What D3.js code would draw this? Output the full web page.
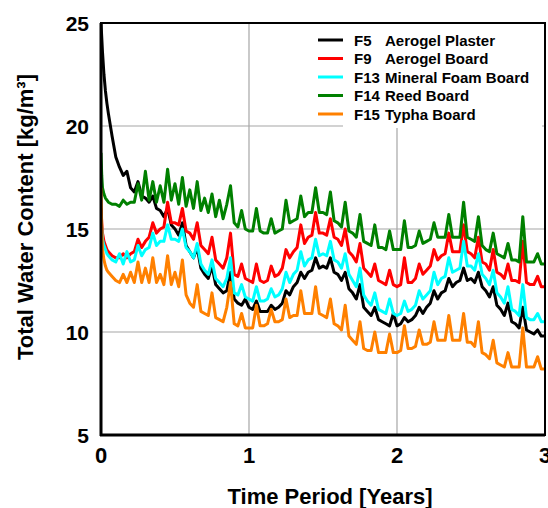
<!DOCTYPE html>
<html><head><meta charset="utf-8">
<script src="https://cdn.jsdelivr.net/npm/d3@7"></script>
<style>body{margin:0;background:#fff}svg{display:block}text{font-family:"Liberation Sans",Arial,sans-serif;font-weight:bold}</style>
</head><body><svg id="c" width="548" height="508"></svg>
<script>
const times = [0,0.005,0.01,0.02,0.03,0.04,0.05,0.075,0.1,
0.125,0.15,0.175,0.2,0.225,0.25,0.275,0.3,0.325,0.35,0.375,0.4,0.425,0.45,0.475,0.5,
0.525,0.55,0.575,0.6,0.625,0.65,0.675,0.7,0.725,0.75,0.775,0.8,0.825,0.85,0.875,0.9,0.925,0.95,0.975,1.0,
1.025,1.05,1.075,1.1,1.125,1.15,1.175,1.2,1.225,1.25,1.275,1.3,1.325,1.35,1.375,1.4,1.425,1.45,1.475,1.5,
1.525,1.55,1.575,1.6,1.625,1.65,1.675,1.7,1.725,1.75,1.775,1.8,1.825,1.85,1.875,1.9,1.925,1.95,1.975,2.0,
2.025,2.05,2.075,2.1,2.125,2.15,2.175,2.2,2.225,2.25,2.275,2.3,2.325,2.35,2.375,2.4,2.425,2.45,2.475,2.5,
2.525,2.55,2.575,2.6,2.625,2.65,2.675,2.7,2.725,2.75,2.775,2.8,2.825,2.85,2.875,2.9,2.925,2.95,2.975,3.0];

const f5 = [25,24.3,23.6,22.5,21.7,21.1,20.6,19.5,18.5,
18.0,17.6,17.8,17.0, 16.8,17.3,16.6,16.5, 16.3,16.6,16.0,15.9, 15.6,16.0,15.2,15.0,
14.7,15.3,14.2,13.9, 13.6,14.1,13.1,12.8, 12.6,13.2,12.3,12.1, 11.9,12.0,12.9,11.6, 11.4,11.3,11.6,11.2,
11.1,11.5,11.0,11.0, 11.0,11.3,11.1,11.2, 11.4,12.0,11.8,12.2, 12.4,12.9,12.6,12.9, 13.0,13.6,13.1,13.2,
13.1,13.6,12.9,12.8, 12.5,12.9,12.1,11.9, 11.6,12.3,11.2,11.0, 10.8,11.2,10.6,10.5, 10.4,10.3,10.9,10.3,
10.4,10.7,10.5,10.6, 10.8,11.2,10.9,11.2, 11.4,12.0,11.6,11.9, 12.0,12.6,12.2,12.4, 12.5,13.1,12.5,12.6,
12.4,12.9,12.2,12.0, 11.7,12.2,11.3,11.1, 10.8,11.4,10.5,10.4, 10.2,11.2,10.1,10.0, 9.9,10.1,9.8,9.8];

const f9 = [16.0,15.3,14.8,14.4,14.2,14.0,13.9,13.7,13.6,
13.6,13.8,13.6,13.8, 13.9,14.5,14.1,14.4, 14.6,15.3,14.8,15.0, 15.1,16.3,15.3,15.3,
15.2,16.0,14.9,14.8, 14.5,15.3,14.2,14.0, 13.8,14.6,13.5,13.3, 13.1,13.6,14.8,12.8, 12.7,13.3,12.6,12.5,
12.4,13.3,12.5,12.4, 12.5,13.2,12.7,12.8, 13.1,14.0,13.6,13.9, 14.1,15.2,14.3,14.6, 14.7,15.8,14.8,14.8,
14.7,15.5,14.6,14.5, 14.2,15.0,13.9,13.7, 13.4,14.3,13.1,12.9, 12.7,13.3,12.5,12.4, 12.3,13.0,12.3,12.2,
12.3,13.6,12.4,12.4, 12.6,13.3,12.8,13.0, 13.2,14.0,13.5,13.7, 13.8,14.8,13.9,13.9, 13.9,15.2,13.9,13.8,
13.6,14.6,13.4,13.3, 13.0,14.0,12.9,12.8, 12.6,13.3,12.5,12.5, 12.4,14.4,12.4,12.3, 12.3,12.7,12.2,12.2];

const f13 = [15.6,15.0,14.5,14.2,14.0,13.8,13.7,13.5,13.4,
13.8,13.3,13.9,13.4, 13.5,14.2,13.7,14.0, 14.1,14.8,14.2,14.4, 14.4,15.2,14.5,14.5,
14.4,15.0,14.1,13.9, 13.6,14.3,13.3,13.0, 12.8,13.5,12.6,12.4, 12.2,12.6,13.6,11.9, 11.8,12.3,11.7,11.6,
11.5,12.2,11.5,11.5, 11.6,12.1,11.7,11.8, 12.1,12.9,12.4,12.8, 13.0,13.9,13.2,13.5, 13.6,14.5,13.7,13.8,
13.7,14.4,13.5,13.4, 13.1,13.8,12.8,12.5, 12.2,13.1,11.8,11.5, 11.3,11.9,11.1,11.0, 10.9,11.6,10.9,10.8,
10.9,11.5,11.0,11.1, 11.3,12.0,11.6,11.8, 12.0,12.9,12.3,12.6, 12.7,13.6,12.9,13.0, 13.1,14.4,13.2,13.2,
13.0,13.8,12.8,12.6, 12.3,13.0,11.9,11.7, 11.4,12.2,11.1,11.0, 10.8,12.3,10.7,10.6, 10.6,10.9,10.5,10.5];

const f14 = [18.7,17.6,17.0,16.7,16.5,16.4,16.3,16.2,16.2,
16.1,16.4,16.2,16.3, 16.3,17.2,16.4,17.8, 16.4,17.3,16.3,17.1, 16.3,17.9,16.4,17.2,
16.2,17.5,16.1,16.9, 16.0,17.3,15.9,16.5, 15.8,16.7,15.6,16.4, 15.5,16.2,17.1,15.3, 15.1,15.9,15.0,14.9,
14.9,16.0,14.9,14.8, 14.8,15.5,14.8,14.9, 15.0,16.4,15.3,15.4, 15.5,16.6,15.6,15.8, 15.8,17.0,15.8,15.8,
15.7,16.8,15.4,15.3, 15.1,16.3,14.9,14.8, 14.6,15.7,14.4,14.3, 14.2,15.2,14.1,14.1, 14.0,14.9,14.0,14.0,
14.0,15.4,14.1,14.1, 14.2,14.9,14.3,14.4, 14.5,15.3,14.6,14.6, 14.6,15.7,14.6,14.6, 14.6,16.3,14.6,14.5,
14.4,15.6,14.2,14.0, 13.9,14.8,13.8,13.7, 13.6,14.3,13.5,13.5, 13.4,15.6,13.4,13.4, 13.4,13.8,13.3,13.3];

const f15 = [17.0,15.0,14.0,13.5,13.2,13.0,12.9,12.7,12.5,
12.4,12.8,12.4,12.9, 12.4,13.4,12.4,13.1, 12.4,13.6,12.4,12.8, 12.3,13.7,12.3,12.9,
12.2,13.5,11.8,11.4, 11.2,12.3,11.0,10.9, 10.8,11.9,10.7,10.6, 10.5,11.2,12.4,10.4, 10.3,10.9,10.2,10.2,
10.2,11.3,10.3,10.3, 10.4,11.1,10.5,10.5, 10.6,11.6,10.7,10.8, 10.8,12.0,10.9,10.9, 10.9,12.2,10.9,10.8,
10.7,11.6,10.4,10.3, 10.1,11.3,9.8,9.6, 9.4,10.5,9.2,9.1, 9.1,10.0,9.0,9.0, 9.0,9.9,9.0,9.0,
9.1,10.3,9.2,9.2, 9.3,10.1,9.4,9.4, 9.5,10.5,9.6,9.6, 9.6,10.8,9.6,9.6, 9.6,10.9,9.5,9.5,
9.3,10.5,9.0,8.9, 8.7,9.6,8.5,8.4, 8.3,9.0,8.3,8.3, 8.3,10.2,8.3,8.3, 8.3,8.8,8.2,8.2];

const seriesCodes = ["F5","F9","F13","F14","F15"];
const seriesNames = ["Aerogel Plaster","Aerogel Board","Mineral Foam Board","Reed Board","Typha Board"];
const seriesColors = ["#000000","#ff0000","#00ffff","#008000","#ff8000"];
const seriesValues = [f5,f9,f13,f14,f15];
const xTicks = [0,1,2,3];
const yTicks = [5,10,15,20,25];
const xTitle = "Time Period [Years]";
const yTitle = "Total Water Content [kg/m\u00B3]";

const svg = d3.select("#c");
const L=101,R=545,T=23,B=435;
const x = d3.scaleLinear().domain([0,3]).range([L,R]);
const y = d3.scaleLinear().domain([5,25]).range([B,T]);

// grid
svg.append("g").selectAll("line").data(xTicks.slice(1,-1)).join("line")
  .attr("x1",d=>x(d)).attr("x2",d=>x(d)).attr("y1",T).attr("y2",B)
  .attr("stroke","#a6a6a6").attr("stroke-width",1.2);
svg.append("g").selectAll("line").data(yTicks.slice(1,-1)).join("line")
  .attr("x1",L).attr("x2",R).attr("y1",d=>y(d)).attr("y2",d=>y(d))
  .attr("stroke","#a6a6a6").attr("stroke-width",1.2);

// lines
svg.append("clipPath").attr("id","cp").append("rect")
  .attr("x",L).attr("y",T-2).attr("width",R-L).attr("height",B-T+2);
const line = d3.line().x(d=>x(d[0])).y(d=>y(d[1]));
const lg = svg.append("g").attr("clip-path","url(#cp)");
seriesValues.forEach((vals,i)=>{
  const n = Math.min(vals.length,times.length);
  const pts = [];
  for(let k=0;k<n;k++) pts.push([times[k],vals[k]]);
  lg.append("path").datum(pts).attr("d",line).attr("fill","none")
    .attr("stroke",seriesColors[i]).attr("stroke-width",3).attr("stroke-linejoin","round");
});

// legend background
svg.append("rect").attr("x",343).attr("y",T+1).attr("width",R-343-3).attr("height",128-T-1).attr("fill","#fff");
const leg = svg.append("g");
seriesCodes.forEach((c,i)=>{
  const yy = 40 + i*18.5;
  leg.append("line").attr("x1",318).attr("x2",343).attr("y1",yy).attr("y2",yy)
    .attr("stroke",seriesColors[i]).attr("stroke-width",3);
  leg.append("text").attr("x",354).attr("y",yy).attr("dominant-baseline","central")
    .attr("font-size",15).text(c);
  leg.append("text").attr("x",385).attr("y",yy).attr("dominant-baseline","central")
    .attr("font-size",15).text(seriesNames[i]);
});

// frame
svg.append("rect").attr("x",L).attr("y",T).attr("width",R-L).attr("height",B-T)
  .attr("fill","none").attr("stroke","#000").attr("stroke-width",2);
svg.append("line").attr("x1",L).attr("x2",L).attr("y1",T).attr("y2",B+1).attr("stroke","#000").attr("stroke-width",3);
svg.append("line").attr("x1",L-1).attr("x2",R).attr("y1",B).attr("y2",B).attr("stroke","#000").attr("stroke-width",3);

// tick labels
svg.append("g").selectAll("text").data(yTicks).join("text")
  .attr("x",89).attr("y",d=>y(d)).attr("text-anchor","end").attr("dominant-baseline","central")
  .attr("font-size",21).text(d=>d);
svg.append("g").selectAll("text").data(xTicks).join("text")
  .attr("x",d=>x(d)).attr("y",455).attr("text-anchor","middle").attr("dominant-baseline","central")
  .attr("font-size",22).text(d=>d);

// titles
svg.append("text").attr("x",330).attr("y",504).attr("text-anchor","middle").attr("font-size",22).text(xTitle);
svg.append("text").attr("transform","translate(25,217) rotate(-90)").attr("text-anchor","middle")
  .attr("dominant-baseline","central").attr("font-size",22).text(yTitle);
</script></body></html>
